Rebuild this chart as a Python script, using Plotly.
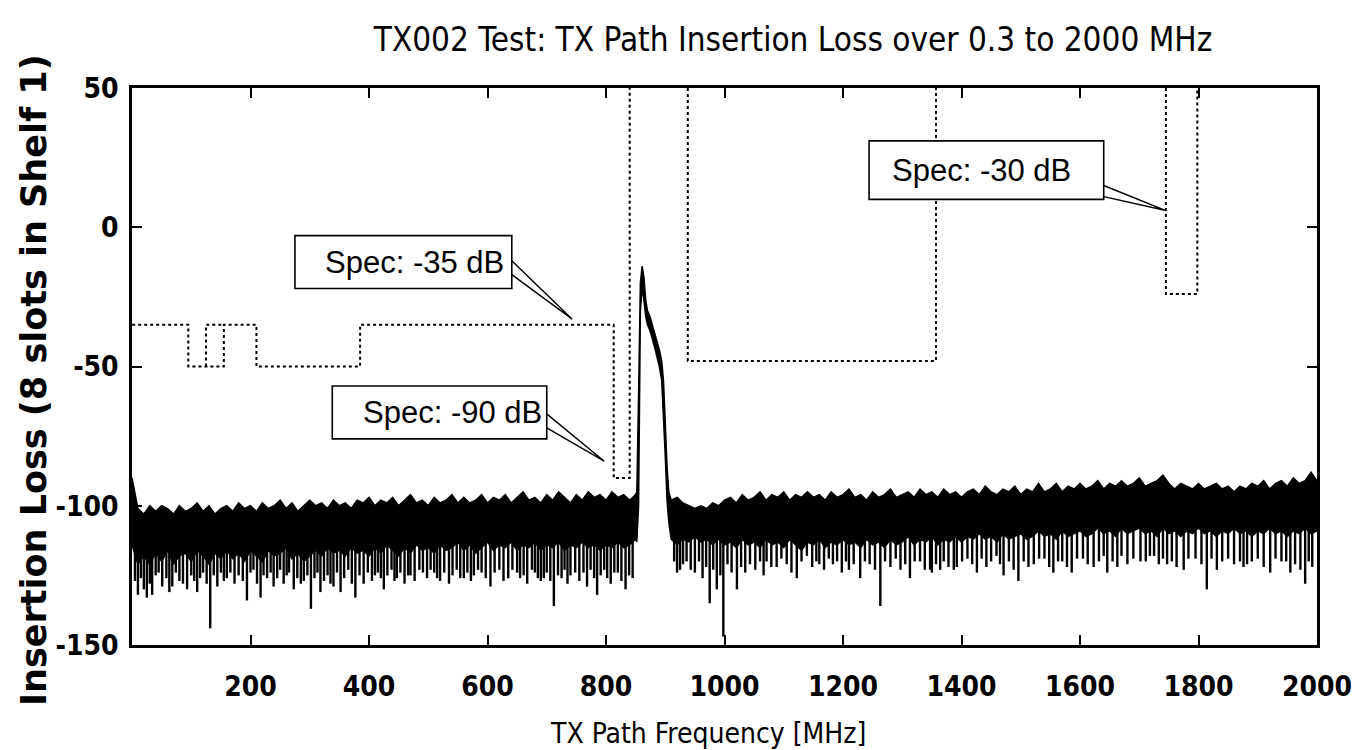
import plotly.graph_objects as go

# ---------------- data ----------------
freq_left = list(range(0, 860, 10))          # 0 .. 850 MHz
top_left = [-90, -101, -103, -100, -102, -100, -101, -103, -100, -102,
            -101, -99, -102, -100, -103, -101, -100, -102, -99, -101,
            -100, -102, -99, -101, -100, -98, -101, -99, -102, -100,
            -98, -100, -99, -101, -98, -100, -99, -101, -98, -99,
            -97, -100, -98, -99, -97, -100, -98, -96, -99, -98,
            -100, -97, -99, -98, -96, -99, -97, -99, -98, -96,
            -99, -97, -98, -96, -99, -97, -95, -98, -97, -99,
            -96, -98, -95, -97, -99, -96, -98, -95, -97, -96,
            -98, -95, -97, -96, -98, -96]
bot_left = [-114, -121, -118, -121, -117, -120, -116, -121, -118, -117,
            -120, -116, -118, -121, -117, -119, -116, -119, -117, -120,
            -116, -118, -120, -116, -118, -117, -115, -119, -117, -120,
            -118, -116, -118, -115, -117, -116, -118, -115, -117, -116,
            -118, -115, -117, -114, -116, -118, -115, -117, -114, -116,
            -115, -117, -114, -116, -115, -113, -116, -114, -117, -115,
            -113, -116, -114, -115, -113, -116, -114, -115, -113, -116,
            -114, -115, -113, -116, -114, -115, -113, -115, -114, -116,
            -114, -115, -113, -115, -114, -112]

freq_peak = [852, 855, 858, 861, 864, 867, 870, 874, 878, 882, 886, 890, 894, 897, 900, 903, 906, 910]
top_peak = [-95, -60, -20, -14, -18, -26, -30, -32, -35, -38, -41, -44, -48, -55, -70, -86, -95, -98]
bot_peak = [-113, -100, -30, -22, -26, -32, -35, -37, -40, -43, -46, -50, -55, -65, -82, -98, -106, -112]

freq_right = list(range(920, 2010, 10))      # 920 .. 2000 MHz
top_right = [-97, -99, -100, -101, -100, -101, -99, -100, -98, -97,
             -99, -96, -98, -97, -95, -98, -96, -97, -95, -98,
             -96, -97, -95, -97, -96, -98, -95, -97, -96, -94,
             -97, -96, -98, -95, -97, -96, -94, -97, -96, -95,
             -97, -94, -96, -95, -97, -94, -96, -95, -97, -95,
             -94, -96, -93, -95, -96, -94, -95, -93, -96, -94,
             -95, -92, -95, -94, -92, -95, -93, -94, -92, -94,
             -93, -91, -94, -92, -93, -91, -93, -92, -90, -93,
             -92, -91, -89, -92, -94, -92, -93, -94, -92, -94,
             -93, -92, -94, -93, -95, -93, -94, -92, -93, -91,
             -94, -92, -91, -93, -90, -92, -91, -88, -91]
bot_right = [-114, -112, -113, -111, -113, -112, -114, -112, -114, -113,
             -115, -112, -114, -113, -115, -112, -114, -113, -115, -112,
             -114, -116, -113, -114, -112, -115, -113, -114, -112, -114,
             -113, -115, -112, -114, -113, -115, -112, -114, -113, -111,
             -114, -112, -113, -111, -114, -112, -113, -111, -113, -111,
             -112, -110, -112, -111, -113, -110, -112, -111, -110, -112,
             -111, -109, -111, -110, -112, -109, -111, -110, -109, -111,
             -110, -108, -110, -109, -111, -108, -110, -109, -108, -110,
             -109, -111, -108, -110, -109, -111, -109, -110, -108, -110,
             -109, -111, -109, -110, -108, -110, -109, -111, -109, -110,
             -108, -110, -109, -111, -109, -110, -108, -110, -109]

# downward noise spikes (frequency MHz, depth dB)
spike_freq = [5, 10, 15, 20, 25, 30, 34, 40, 45, 51, 58, 63, 68, 74, 80, 86, 93, 100, 105, 110,
              115, 120, 126, 132, 138, 144, 150, 155, 160, 166, 173, 180, 187, 194, 200, 205,
              211, 217, 222, 228, 234, 239, 245, 250, 256, 261, 265, 273, 279, 285, 290, 296,
              302, 308, 313, 318, 324, 330, 335, 340, 346, 352, 358, 365, 371, 377, 384, 391,
              398, 405, 410, 415, 420, 425, 431, 438, 443, 447, 453, 460, 466, 470, 477, 485,
              491, 498, 504, 510, 515, 520, 527, 535, 541, 548, 554, 560, 566, 572, 577, 584,
              590, 597, 605, 612, 620, 627, 635, 642, 650, 655, 661, 667, 675, 680, 685, 690,
              695, 700, 706, 712, 719, 725, 730, 735, 740, 748, 755, 762, 768, 774, 780, 785,
              791, 797, 802, 808, 814, 820, 826, 833, 839, 845,
              915, 920, 925, 930, 936, 943, 950, 957, 963, 969, 975, 981, 987, 993, 998, 1005,
              1012, 1021, 1028, 1035, 1043, 1052, 1060, 1066, 1071, 1079, 1088, 1096, 1105,
              1113, 1122, 1130, 1139, 1148, 1155, 1160, 1168, 1176, 1183, 1190, 1198, 1205,
              1210, 1218, 1229, 1237, 1245, 1254, 1263, 1271, 1280, 1289, 1297, 1305, 1313,
              1321, 1330, 1338, 1347, 1350, 1357, 1364, 1370, 1378, 1387, 1392, 1401, 1410,
              1418, 1426, 1434, 1442, 1450, 1459, 1465, 1471, 1480, 1488, 1496, 1505, 1513,
              1522, 1531, 1540, 1548, 1555, 1563, 1570, 1578, 1586, 1595, 1605, 1613, 1623,
              1632, 1640, 1646, 1655, 1663, 1670, 1680, 1690, 1702, 1711, 1718, 1725, 1733,
              1740, 1747, 1755, 1763, 1775, 1783, 1795, 1805, 1814, 1822, 1831, 1840, 1850,
              1860, 1870, 1876, 1882, 1890, 1900, 1910, 1921, 1930, 1940, 1948, 1955, 1963,
              1972, 1980, 1986, 1992]
spike_db = [-127, -132, -126, -130, -133, -128, -132, -125, -124, -129, -126, -131, -129, -124, -127, -128, -130, -125, -127, -131,
            -126, -124, -128, -144, -125, -129, -124, -127, -126, -124, -128, -125, -127, -134, -124, -123,
            -128, -133, -125, -126, -124, -129, -126, -123, -128, -125, -124, -130, -126, -128, -127, -125,
            -137, -126, -124, -131, -127, -125, -128, -129, -124, -131, -126, -123, -128, -133, -125, -128,
            -124, -127, -125, -124, -126, -130, -125, -123, -127, -126, -124, -128, -125, -125, -127, -123,
            -124, -126, -123, -124, -126, -127, -124, -128, -125, -123, -126, -126, -124, -127, -125, -123,
            -124, -126, -129, -124, -123, -127, -126, -123, -124, -126, -125, -128, -123, -124, -126, -127,
            -126, -124, -127, -136, -125, -126, -123, -128, -125, -124, -127, -124, -129, -123, -126, -132,
            -125, -123, -126, -128, -124, -124, -127, -130, -125, -126,
            -120, -124, -123, -121, -120, -123, -124, -120, -126, -122, -135, -123, -130, -125, -147, -121,
            -124, -130, -122, -124, -121, -123, -120, -125, -120, -122, -122, -119, -121,
            -124, -126, -120, -118, -122, -120, -121, -123, -119, -121, -120, -124, -120,
            -123, -121, -126, -120, -121, -123, -136, -120, -122, -119, -123, -121, -126,
            -120, -120, -123, -123, -124, -121, -123, -120, -122, -123, -122, -120, -119,
            -121, -124, -119, -122, -120, -118, -121, -125, -120, -123, -127, -120, -122,
            -121, -119, -119, -122, -124, -120, -120, -122, -124, -119, -119, -121, -122,
            -120, -118, -124, -120, -122, -118, -121, -119, -120, -120, -118, -118, -121,
            -119, -121, -120, -122, -123, -119, -119, -121, -130, -119, -123, -120, -119,
            -121, -120, -122, -121, -120, -119, -122, -124, -119, -120, -120, -124, -121,
            -123, -128, -120, -122]

# spec masks (dotted)
spec_a_x = [0.3, 95, 95, 155, 155, 210, 210, 385, 385, 813, 813, 840, 840]
spec_a_y = [-35, -35, -50, -50, -35, -35, -50, -50, -35, -35, -90, -90, 50]
spec_a2_x = [125, 125, 155]
spec_a2_y = [-50, -35, -35]
spec_b_x = [938, 938, 1357, 1357]
spec_b_y = [50, -48, -48, 50]
spec_c_x = [1745, 1745, 1798, 1798]
spec_c_y = [50, -24, -24, 50]

x_ticks = [200, 400, 600, 800, 1000, 1200, 1400, 1600, 1800, 2000]
y_ticks = [-150, -100, -50, 0, 50]
y_tick_text = ["-150", "-100", "-50", "0", "50"]

# callout boxes: text, box x0,x1,y0,y1 (data units), text inset (MHz), wedge base y pair, tip
callouts = [
    ("Spec: -35 dB", 275, 641, -22, -3, 48, (-12, -17), (743, -33)),
    ("Spec: -90 dB", 338, 700, -76, -57, 48, (-67, -72), (797, -84)),
    ("Spec: -30 dB", 1244, 1640, 10, 31, 36, (15, 11), (1745, 6)),
]

# ---------------- figure ----------------
COND = "DejaVu Sans Condensed, Liberation Sans Narrow, Liberation Sans, sans-serif"
fig = go.Figure()

freq_all = freq_left + freq_peak + freq_right
top_all = top_left + top_peak + top_right
bot_all = bot_left + bot_peak + bot_right

fig.add_trace(go.Scatter(
    x=freq_all + freq_all[::-1], y=top_all + bot_all[::-1],
    mode="lines", fill="toself", fillcolor="black",
    line=dict(color="black", width=1.5), hoverinfo="skip", showlegend=False))

sx, sy = [], []
for f, d in zip(spike_freq, spike_db):
    sx += [f, f, None]
    sy += [-108, d, None]
fig.add_trace(go.Scatter(x=sx, y=sy, mode="lines",
                         line=dict(color="black", width=2.4), showlegend=False, hoverinfo="skip"))

for xs, ys in [(spec_a_x, spec_a_y), (spec_a2_x, spec_a2_y), (spec_b_x, spec_b_y), (spec_c_x, spec_c_y)]:
    fig.add_trace(go.Scatter(x=xs, y=ys, mode="lines",
                             line=dict(color="black", width=2, dash="dot"),
                             showlegend=False, hoverinfo="skip", cliponaxis=False))

shapes = []
annotations = []
for text, x0, x1, y0, y1, inset, (wy0, wy1), (tx, ty) in callouts:
    shapes.append(dict(type="rect", xref="x", yref="y", x0=x0, x1=x1, y0=y0, y1=y1,
                       line=dict(color="black", width=1.6), fillcolor="white", layer="above"))
    shapes.append(dict(type="path", xref="x", yref="y",
                       path=f"M {x1},{wy0} L {tx},{ty} L {x1},{wy1}",
                       line=dict(color="black", width=1.4), layer="above"))
    annotations.append(dict(x=x0 + inset, y=(y0 + y1) / 2, xref="x", yref="y", text=text,
                            showarrow=False, xanchor="left", yanchor="middle",
                            font=dict(family="Liberation Sans, Arial, sans-serif", size=31, color="black")))

# axis titles placed as paper annotations
annotations.append(dict(x=(700 - 124) / 1185, y=(637 - 725) / 557, xref="paper", yref="paper",
                        text="TX Path Frequency [MHz]", showarrow=False,
                        xanchor="center", yanchor="middle",
                        font=dict(family=COND, size=28, color="black")))
annotations.append(dict(x=(26 - 124) / 1185, y=(637 - 372) / 557, xref="paper", yref="paper",
                        text="Insertion Loss (8 slots in Shelf 1)", showarrow=False, textangle=-90,
                        xanchor="center", yanchor="middle",
                        font=dict(family="DejaVu Sans, sans-serif", size=35, color="black",
                                  weight="bold")))

fig.update_layout(
    width=1360, height=750,
    paper_bgcolor="white", plot_bgcolor="white",
    margin=dict(l=124, r=51, t=80, b=113),
    title=dict(text="TX002 Test: TX Path Insertion Loss over 0.3 to 2000 MHz",
               x=785 / 1360, xanchor="center", y=1 - 31 / 750, yanchor="middle",
               font=dict(family=COND, size=33, color="black")),
    shapes=shapes, annotations=annotations,
    showlegend=False,
)
fig.update_xaxes(range=[0, 2000], tickvals=x_ticks, ticks="inside", ticklen=10, tickwidth=1.5,
                 tickcolor="black", showline=True, linecolor="black", linewidth=2.5, mirror="ticks",
                 showgrid=False, zeroline=False, ticklabelstandoff=15,
                 tickfont=dict(family=COND, size=28, color="black", weight="bold"))
fig.update_yaxes(range=[-150, 50], tickvals=y_ticks, ticktext=y_tick_text, ticks="inside", ticklen=10,
                 tickwidth=1.5, tickcolor="black", showline=True, linecolor="black", linewidth=2.5,
                 mirror="ticks", showgrid=False, zeroline=False, ticklabelstandoff=5,
                 tickfont=dict(family=COND, size=28, color="black", weight="bold"))

fig.write_html("out.html")
